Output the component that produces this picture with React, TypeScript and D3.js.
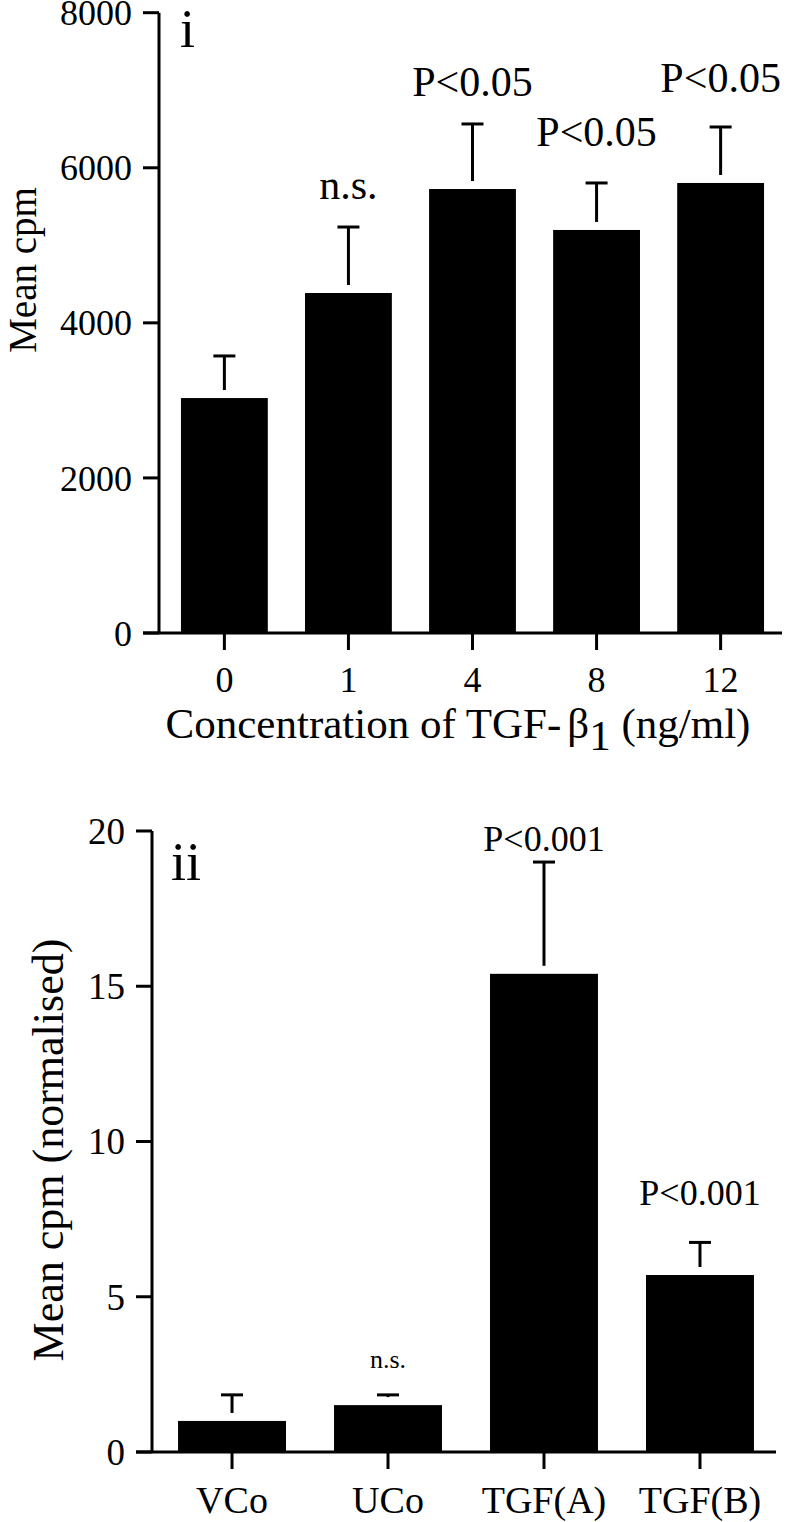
import React from "react";
import * as d3 from "d3";

// ---------- Data ----------
const concCategories = ["0", "1", "4", "8", "12"];
const concMeans = [3030, 4385, 5726, 5198, 5804];
const concErrors = [543, 851, 839, 606, 722];
const concLabels = ["", "n.s.", "P<0.05", "P<0.05", "P<0.05"];
const concTicks = [0, 2000, 4000, 6000, 8000];

const groupCategories = ["VCo", "UCo", "TGF(A)", "TGF(B)"];
const groupMeans = [1.0, 1.51, 15.4, 5.7];
const groupErrors = [0.84, 0.33, 3.6, 1.05];
const groupLabels = ["", "n.s.", "P<0.001", "P<0.001"];
const groupTicks = [0, 5, 10, 15, 20];

const FONT = "'Liberation Serif', 'Times New Roman', Times, serif";

type PanelProps = {
  cats: string[];
  means: number[];
  errs: number[];
  labels: string[];
  ticks: number[];
  yMax: number;
  yTop: number;
  yBottom: number;
  axisX: number;
  xEnd: number;
  hAxisEnd: number;
  padInner: number;
  padOuter: number;
  tickFont: number;
  xTickFont: number;
  xTickBaseline: number;
  annFonts: number[];
  annGaps: number[];
  panelLabel: string;
  panelLabelPos: [number, number];
  yLabel: string;
  yLabelPos: [number, number];
  yLabelFont: number;
  children?: React.ReactNode;
};

function Panel(p: PanelProps) {
  const x = d3
    .scaleBand<string>()
    .domain(p.cats)
    .range([p.axisX, p.xEnd])
    .paddingInner(p.padInner)
    .paddingOuter(p.padOuter);
  const y = d3.scaleLinear().domain([0, p.yMax]).range([p.yBottom, p.yTop]);
  const tickLen = 16;
  const sw = 3;
  return (
    <g>
      {/* bars */}
      {p.cats.map((c, i) => (
        <rect
          key={"b" + c}
          x={x(c)}
          y={y(p.means[i])}
          width={x.bandwidth()}
          height={y(0) - y(p.means[i])}
          fill="#000"
        />
      ))}
      {/* error bars */}
      {p.cats.map((c, i) => {
        const cx = (x(c) as number) + x.bandwidth() / 2;
        const capY = y(p.means[i] + p.errs[i]);
        const stemEnd = y(p.means[i]) - 8;
        return (
          <g key={"e" + c}>
            {stemEnd > capY + 2 && (
              <line x1={cx} x2={cx} y1={capY} y2={stemEnd} stroke="#000" strokeWidth={sw} />
            )}
            <line x1={cx - 11} x2={cx + 11} y1={capY} y2={capY} stroke="#000" strokeWidth={sw} />
          </g>
        );
      })}
      {/* annotations */}
      {p.cats.map((c, i) =>
        p.labels[i] ? (
          <text
            key={"a" + c}
            x={(x(c) as number) + x.bandwidth() / 2}
            y={y(p.means[i] + p.errs[i]) - p.annGaps[i]}
            textAnchor="middle"
            fontFamily={FONT}
            fontSize={p.annFonts[i]}
          >
            {p.labels[i]}
          </text>
        ) : null
      )}
      {/* y axis */}
      <line x1={p.axisX} x2={p.axisX} y1={y(p.yMax)} y2={y(0)} stroke="#000" strokeWidth={sw} />
      {p.ticks.map((t) => (
        <g key={"yt" + t}>
          <line
            x1={p.axisX - tickLen}
            x2={p.axisX}
            y1={y(t)}
            y2={y(t)}
            stroke="#000"
            strokeWidth={sw}
          />
          <text
            x={p.axisX - tickLen - 11}
            y={y(t)}
            dy="0.35em"
            textAnchor="end"
            fontFamily={FONT}
            fontSize={p.tickFont}
          >
            {t}
          </text>
        </g>
      ))}
      {/* x axis */}
      <line
        x1={p.axisX - tickLen}
        x2={p.hAxisEnd}
        y1={y(0)}
        y2={y(0)}
        stroke="#000"
        strokeWidth={sw}
      />
      {p.cats.map((c) => {
        const cx = (x(c) as number) + x.bandwidth() / 2;
        return (
          <g key={"xt" + c}>
            <line x1={cx} x2={cx} y1={y(0)} y2={y(0) + 17} stroke="#000" strokeWidth={sw} />
            <text
              x={cx}
              y={p.xTickBaseline}
              textAnchor="middle"
              fontFamily={FONT}
              fontSize={p.xTickFont}
            >
              {c}
            </text>
          </g>
        );
      })}
      {/* panel label */}
      <text x={p.panelLabelPos[0]} y={p.panelLabelPos[1]} fontFamily={FONT} fontSize={54}>
        {p.panelLabel}
      </text>
      {/* y label */}
      <text
        transform={`translate(${p.yLabelPos[0]},${p.yLabelPos[1]}) rotate(-90)`}
        textAnchor="middle"
        fontFamily={FONT}
        fontSize={p.yLabelFont}
      >
        {p.yLabel}
      </text>
      {p.children}
    </g>
  );
}

export default function App() {
  return (
    <svg
      width={787}
      height={1522}
      style={{ position: "absolute", left: 0, top: 0, display: "block", background: "#fff" }}
    >
      <rect width={787} height={1522} fill="#fff" />
      <Panel
        cats={concCategories}
        means={concMeans}
        errs={concErrors}
        labels={concLabels}
        ticks={concTicks}
        yMax={8000}
        yTop={12.7}
        yBottom={633}
        axisX={159}
        xEnd={786}
        hAxisEnd={782}
        padInner={0.3}
        padOuter={0.177}
        tickFont={36}
        xTickFont={36}
        xTickBaseline={692}
        annFonts={[42, 42, 42, 42, 42]}
        annGaps={[30, 28, 28, 37, 35]}
        panelLabel="i"
        panelLabelPos={[180, 47]}
        yLabel="Mean cpm"
        yLabelPos={[36, 270]}
        yLabelFont={39}
      >
        <text x={458} y={738} textAnchor="middle" fontFamily={FONT} fontSize={43}>
          Concentration of TGF-
          <tspan dx={6}>β</tspan>
          <tspan dy={12}>1</tspan>
          <tspan dy={-12}> (ng/ml)</tspan>
        </text>
      </Panel>
      <Panel
        cats={groupCategories}
        means={groupMeans}
        errs={groupErrors}
        labels={groupLabels}
        ticks={groupTicks}
        yMax={20}
        yTop={831}
        yBottom={1452}
        axisX={152}
        xEnd={780}
        hAxisEnd={776}
        padInner={0.308}
        padOuter={0.167}
        tickFont={37}
        xTickFont={38}
        xTickBaseline={1513}
        annFonts={[26, 26, 36, 36]}
        annGaps={[27, 27, 11, 37]}
        panelLabel="ii"
        panelLabelPos={[171, 880]}
        yLabel="Mean cpm (normalised)"
        yLabelPos={[63, 1150]}
        yLabelFont={44}
      />
    </svg>
  );
}
